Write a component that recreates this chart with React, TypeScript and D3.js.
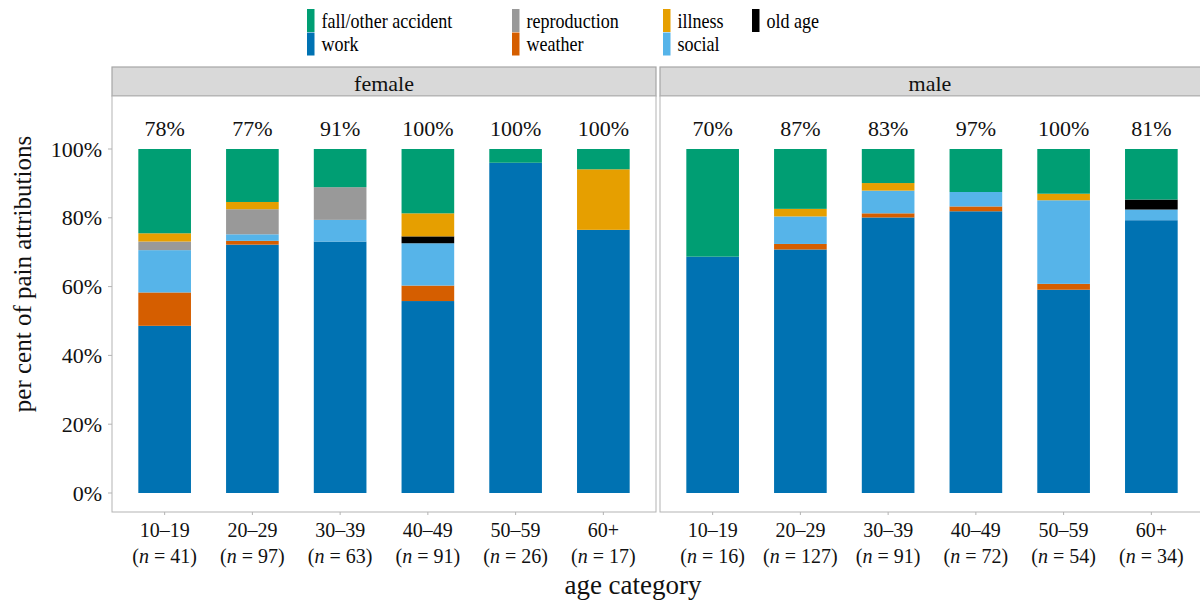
import React from "react";
import * as d3 from "d3";

const ages = ["10–19", "20–29", "30–39", "40–49", "50–59", "60+"];
const femaleN = [41, 97, 63, 91, 26, 17];
const maleN = [16, 127, 91, 72, 54, 34];
const femaleTopLabels = ["78%", "77%", "91%", "100%", "100%", "100%"];
const maleTopLabels = ["70%", "87%", "83%", "97%", "100%", "81%"];

// stack order bottom -> top
const categories = ["work", "weather", "social", "reproduction", "old age", "illness", "fall/other accident"];
const categoryColors = ["#0072B2", "#D55E00", "#56B4E9", "#999999", "#000000", "#E69F00", "#009E73"];

const femaleWork = [48.6, 72.2, 73.1, 55.8, 96.0, 76.5];
const femaleWeather = [9.7, 1.1, 0, 4.5, 0, 0];
const femaleSocial = [12.3, 1.9, 6.3, 12.3, 0, 0];
const femaleReproduction = [2.5, 7.3, 9.5, 0, 0, 0];
const femaleOldAge = [0, 0, 0, 2.0, 0, 0];
const femaleIllness = [2.4, 2.1, 0, 6.7, 0, 17.6];
const femaleFall = [24.5, 15.4, 11.1, 18.7, 4.0, 5.9];

const maleWork = [68.7, 70.8, 80.1, 81.9, 59.1, 79.3];
const maleWeather = [0, 1.6, 1.2, 1.4, 1.7, 0];
const maleSocial = [0, 8.0, 6.6, 4.2, 24.3, 3.1];
const maleReproduction = [0, 0, 0, 0, 0, 0];
const maleOldAge = [0, 0, 0, 0, 0, 2.9];
const maleIllness = [0, 2.2, 2.2, 0, 1.9, 0];
const maleFall = [31.3, 17.4, 9.9, 12.5, 13.0, 14.7];

const yTicks = [0, 20, 40, 60, 80, 100];

// legend order (column-wise, 2 rows)
const legendOrder = ["fall/other accident", "work", "reproduction", "weather", "illness", "social", "old age"];

const FONT = "Liberation Serif";

function buildTable(series: number[][]) {
  return ages.map((age, i) => {
    const row: any = { age };
    categories.forEach((c, k) => (row[c] = series[k][i]));
    return row;
  });
}

const panels = [
  {
    name: "female",
    n: femaleN,
    top: femaleTopLabels,
    table: buildTable([femaleWork, femaleWeather, femaleSocial, femaleReproduction, femaleOldAge, femaleIllness, femaleFall]),
    x0: 112,
    x1: 656,
  },
  {
    name: "male",
    n: maleN,
    top: maleTopLabels,
    table: buildTable([maleWork, maleWeather, maleSocial, maleReproduction, maleOldAge, maleIllness, maleFall]),
    x0: 660,
    x1: 1204,
  },
];

const txt = { fontFamily: FONT };

export default function App() {
  const W = 1200;
  const H = 600;
  const stripTop = 67;
  const panelTop = 96;
  const panelBottom = 512;
  const y = d3.scaleLinear().domain([0, 100]).range([493, 149]);
  const stack = d3.stack<any>().keys(categories);
  const colorOf = d3.scaleOrdinal<string, string>().domain(categories).range(categoryColors);

  const legendCols = [307, 512, 663, 752];
  const legendRows = [9, 32.5];

  return (
    <svg width={W} height={H} style={{ position: "absolute", left: 0, top: 0, background: "#fff", fontFamily: FONT }}>
      <rect x={0} y={0} width={W} height={H} fill="#fff" />
      {/* legend */}
      {legendOrder.map((c, i) => {
        const col = Math.floor(i / 2);
        const row = i % 2;
        const lx = legendCols[col];
        const ly = legendRows[row];
        return (
          <g key={c}>
            <rect x={lx} y={ly} width={7.5} height={23} fill={colorOf(c)} />
            <text
              x={0}
              y={0}
              fontSize={21}
              fill="#000"
              style={txt}
              transform={`translate(${lx + 14.5},${ly + 18.5}) scale(0.86,1)`}
            >
              {c}
            </text>
          </g>
        );
      })}

      {/* y axis */}
      {yTicks.map((t) => (
        <g key={t}>
          <line x1={108} x2={112} y1={y(t)} y2={y(t)} stroke="#b3b3b3" strokeWidth={1} />
          <text x={102} y={y(t) + 7.5} fontSize={22} textAnchor="end" fill="#111" style={txt}>
            {t}%
          </text>
        </g>
      ))}
      <text transform={`translate(31,274) rotate(-90)`} fontSize={25} textAnchor="middle" fill="#111" style={txt}>
        per cent of pain attributions
      </text>

      {panels.map((p) => {
        const x = d3.scalePoint<string>().domain(ages).range([p.x0, p.x1]).padding(0.6);
        const bw = x.step() * 0.6;
        const series = stack(p.table);
        return (
          <g key={p.name}>
            <rect x={p.x0} y={stripTop} width={p.x1 - p.x0} height={panelTop - stripTop} fill="#d9d9d9" stroke="#a6a6a6" strokeWidth={1.2} />
            <text x={(p.x0 + p.x1) / 2 - (p.name === "male" ? 2 : 0)} y={91} fontSize={22} textAnchor="middle" fill="#111" style={txt}>
              {p.name}
            </text>
            <rect x={p.x0} y={panelTop} width={p.x1 - p.x0} height={panelBottom - panelTop} fill="#fff" stroke="#b3b3b3" strokeWidth={1} />
            {series.map((s) => (
              <g key={s.key} fill={colorOf(s.key)}>
                {s.map((d, i) =>
                  d[1] - d[0] > 0 ? (
                    <rect
                      key={i}
                      x={(x(d.data.age) as number) - bw / 2}
                      y={y(d[1])}
                      width={bw}
                      height={y(d[0]) - y(d[1])}
                    />
                  ) : null
                )}
              </g>
            ))}
            {ages.map((a, i) => (
              <g key={a}>
                <text x={x(a)} y={136} fontSize={22} textAnchor="middle" fill="#111" style={txt}>
                  {p.top[i]}
                </text>
                <line x1={x(a)} x2={x(a)} y1={panelBottom} y2={panelBottom + 3} stroke="#b3b3b3" />
                <text x={x(a)} y={537} fontSize={20} textAnchor="middle" fill="#111" style={txt}>
                  {a}
                </text>
                <text x={x(a)} y={563} fontSize={20} textAnchor="middle" fill="#111" style={txt}>
                  (<tspan fontStyle="italic">n</tspan> = {p.n[i]})
                </text>
              </g>
            ))}
          </g>
        );
      })}

      <text x={633} y={594} fontSize={27} textAnchor="middle" fill="#111" style={txt}>
        age category
      </text>
    </svg>
  );
}
